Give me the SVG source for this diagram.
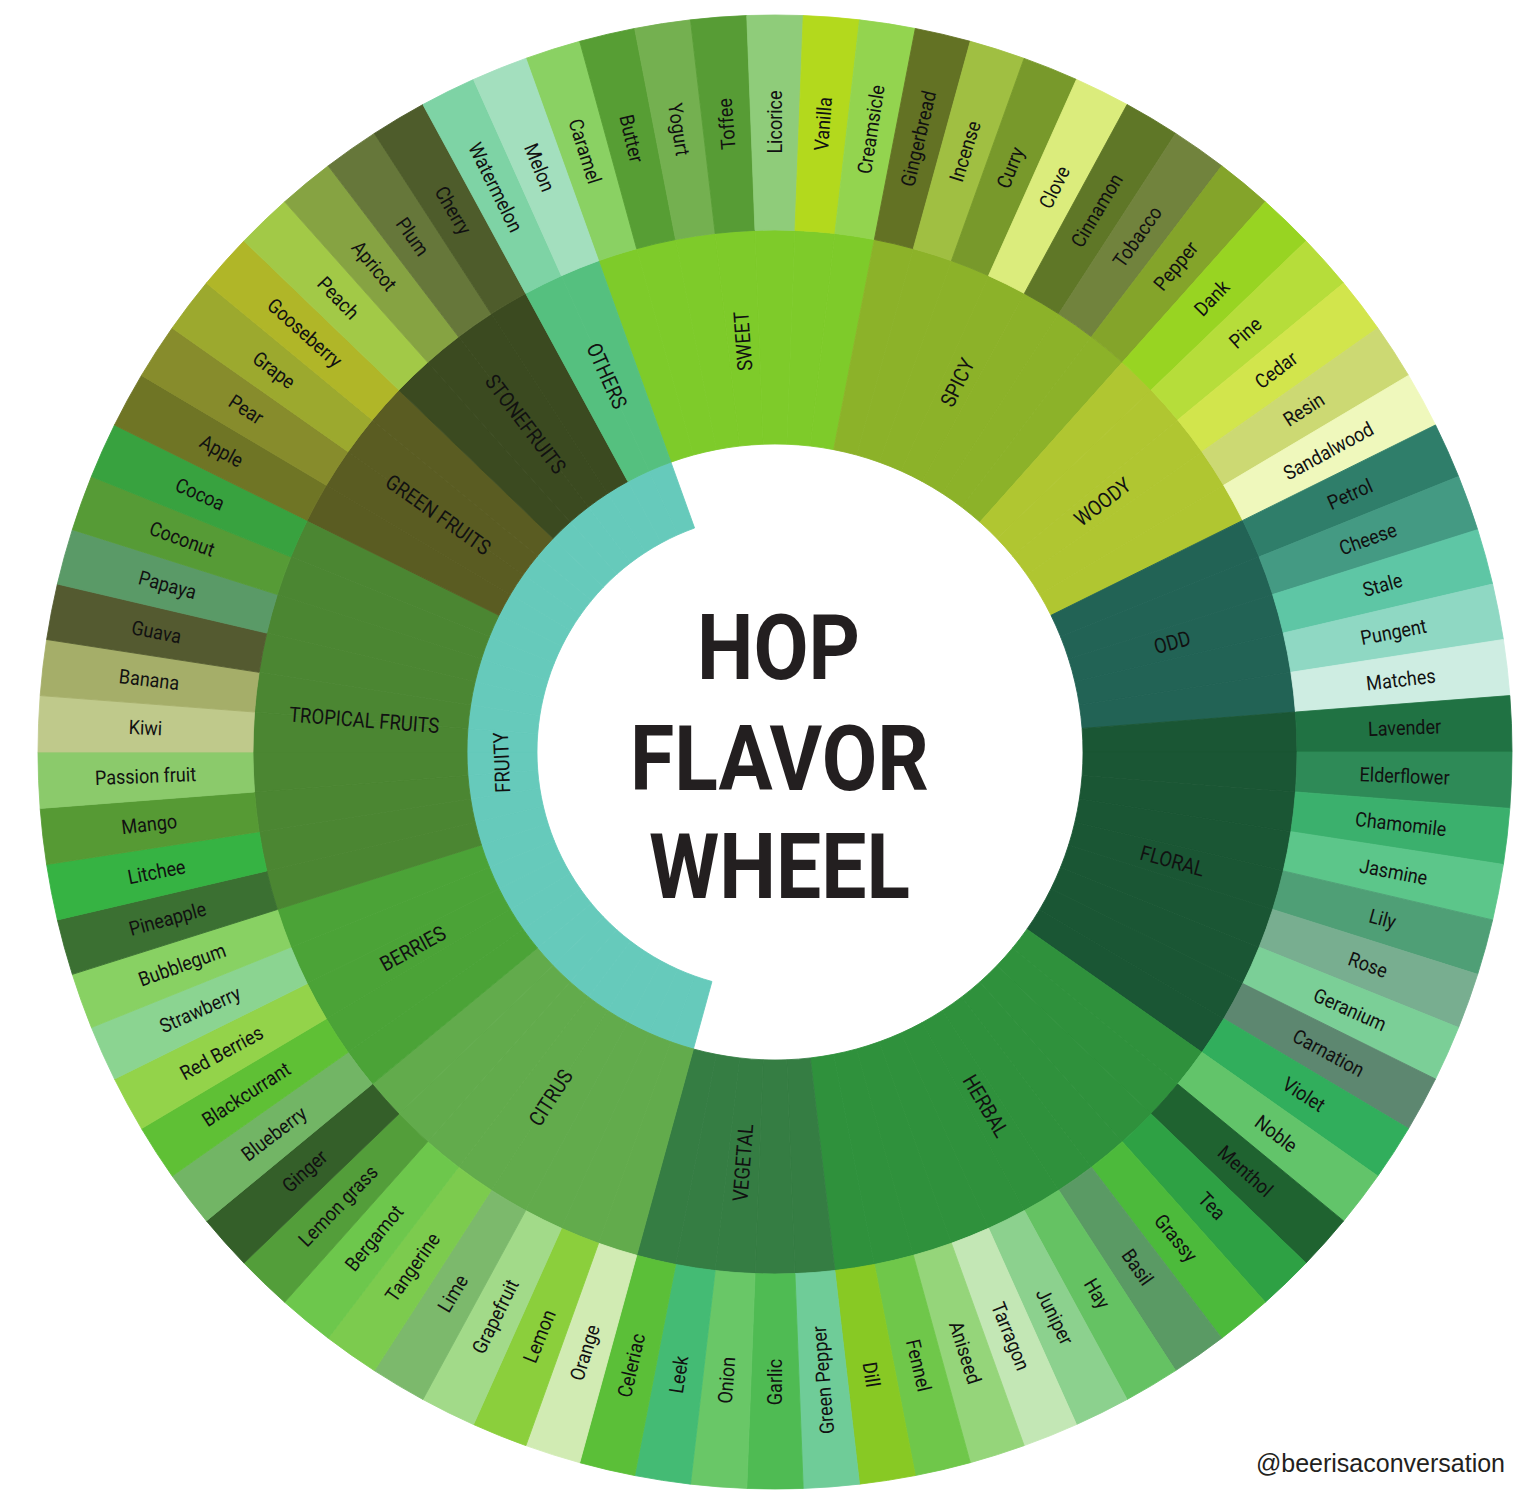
<svg xmlns="http://www.w3.org/2000/svg" xmlns:xlink="http://www.w3.org/1999/xlink" width="1534" height="1507" viewBox="0 0 1534 1507">
<style>
.o{font-family:Roboto,"Liberation Sans",sans-serif;font-size:20px;fill:#111;text-anchor:middle;dominant-baseline:central}
.m{font-family:Roboto,"Liberation Sans",sans-serif;font-size:21px;fill:#111;text-anchor:middle;dominant-baseline:central;stroke:none}
.t{font-family:Roboto,"Liberation Sans",sans-serif;font-weight:700;font-size:91px;fill:#231f20;text-anchor:middle}
use{stroke-width:.8}
</style>
<defs>
<path id="w3" d="M0,-737A737,737 0 0 1 56.417,-734.838L39.959,-520.468A522,522 0 0 0 0,-522Z"/>
<path id="w2" d="M0,-522A522,522 0 0 1 39.959,-520.468L23.577,-307.096A308,308 0 0 0 0,-308Z"/>
<path id="w1" d="M0,-308A308,308 0 0 1 23.577,-307.096L18.219,-237.302A238,238 0 0 0 0,-238Z"/>
</defs>
<rect width="1534" height="1507" fill="#fff"/>
<g transform="translate(775 752)">
<!-- level 1 -->
<g id="fruity" fill="#66cabb" stroke="#66cabb">
<use href="#w1" transform="rotate(195.366)"/><use href="#w1" transform="rotate(199.756)"/><use href="#w1" transform="rotate(204.146)"/><use href="#w1" transform="rotate(208.537)"/><use href="#w1" transform="rotate(212.927)"/><use href="#w1" transform="rotate(217.317)"/><use href="#w1" transform="rotate(221.707)"/><use href="#w1" transform="rotate(226.098)"/><use href="#w1" transform="rotate(230.488)"/><use href="#w1" transform="rotate(234.878)"/><use href="#w1" transform="rotate(239.268)"/><use href="#w1" transform="rotate(243.659)"/><use href="#w1" transform="rotate(248.049)"/><use href="#w1" transform="rotate(252.439)"/><use href="#w1" transform="rotate(256.829)"/><use href="#w1" transform="rotate(261.220)"/><use href="#w1" transform="rotate(265.610)"/><use href="#w1" transform="rotate(270)"/><use href="#w1" transform="rotate(274.390)"/><use href="#w1" transform="rotate(278.780)"/><use href="#w1" transform="rotate(283.171)"/><use href="#w1" transform="rotate(287.561)"/><use href="#w1" transform="rotate(291.951)"/><use href="#w1" transform="rotate(296.341)"/><use href="#w1" transform="rotate(300.732)"/><use href="#w1" transform="rotate(305.122)"/><use href="#w1" transform="rotate(309.512)"/><use href="#w1" transform="rotate(313.902)"/><use href="#w1" transform="rotate(318.293)"/><use href="#w1" transform="rotate(322.683)"/><use href="#w1" transform="rotate(327.073)"/><use href="#w1" transform="rotate(331.463)"/><use href="#w1" transform="rotate(335.854)"/>
<text class="m" transform="rotate(267.805) translate(0 -273) scale(.88 1)">FRUITY</text>
</g>
<!-- level 2 -->
<g id="sweet" fill="#7ecb2a" stroke="#7ecb2a">
<use href="#w2" transform="rotate(-19.756)"/><use href="#w2" transform="rotate(-15.366)"/><use href="#w2" transform="rotate(-10.976)"/><use href="#w2" transform="rotate(-6.585)"/><use href="#w2" transform="rotate(-2.195)"/><use href="#w2" transform="rotate(2.195)"/><use href="#w2" transform="rotate(6.585)"/>
<text class="m" transform="rotate(-4.39) translate(0 -412) rotate(-90) scale(.88 1)">SWEET</text>
</g>
<g id="spicy" fill="#8cb229" stroke="#8cb229">
<use href="#w2" transform="rotate(10.976)"/><use href="#w2" transform="rotate(15.366)"/><use href="#w2" transform="rotate(19.756)"/><use href="#w2" transform="rotate(24.146)"/><use href="#w2" transform="rotate(28.537)"/><use href="#w2" transform="rotate(32.927)"/><use href="#w2" transform="rotate(37.317)"/>
<text class="m" transform="rotate(26.341) translate(0 -412) rotate(-90) scale(.88 1)">SPICY</text>
</g>
<g id="woody" fill="#b0c631" stroke="#b0c631">
<use href="#w2" transform="rotate(41.707)"/><use href="#w2" transform="rotate(46.098)"/><use href="#w2" transform="rotate(50.488)"/><use href="#w2" transform="rotate(54.878)"/><use href="#w2" transform="rotate(59.268)"/>
<text class="m" transform="rotate(52.683) translate(0 -412) rotate(-90) scale(.88 1)">WOODY</text>
</g>
<g id="odd" fill="#226355" stroke="#226355">
<use href="#w2" transform="rotate(63.659)"/><use href="#w2" transform="rotate(68.049)"/><use href="#w2" transform="rotate(72.439)"/><use href="#w2" transform="rotate(76.829)"/><use href="#w2" transform="rotate(81.220)"/>
<text class="m" transform="rotate(74.634) translate(0 -412) rotate(-90) scale(.88 1)">ODD</text>
</g>
<g id="floral" fill="#1a5634" stroke="#1a5634">
<use href="#w2" transform="rotate(85.610)"/><use href="#w2" transform="rotate(90)"/><use href="#w2" transform="rotate(94.390)"/><use href="#w2" transform="rotate(98.780)"/><use href="#w2" transform="rotate(103.171)"/><use href="#w2" transform="rotate(107.561)"/><use href="#w2" transform="rotate(111.951)"/><use href="#w2" transform="rotate(116.341)"/><use href="#w2" transform="rotate(120.732)"/>
<text class="m" transform="rotate(105.366) translate(0 -412) rotate(-90) scale(.88 1)">FLORAL</text>
</g>
<g id="herbal" fill="#2f913c" stroke="#2f913c">
<use href="#w2" transform="rotate(125.122)"/><use href="#w2" transform="rotate(129.512)"/><use href="#w2" transform="rotate(133.902)"/><use href="#w2" transform="rotate(138.293)"/><use href="#w2" transform="rotate(142.683)"/><use href="#w2" transform="rotate(147.073)"/><use href="#w2" transform="rotate(151.463)"/><use href="#w2" transform="rotate(155.854)"/><use href="#w2" transform="rotate(160.244)"/><use href="#w2" transform="rotate(164.634)"/><use href="#w2" transform="rotate(169.024)"/>
<text class="m" transform="rotate(149.268) translate(0 -412) rotate(-90) scale(.88 1)">HERBAL</text>
</g>
<g id="vegetal" fill="#357d43" stroke="#357d43">
<use href="#w2" transform="rotate(173.415)"/><use href="#w2" transform="rotate(177.805)"/><use href="#w2" transform="rotate(182.195)"/><use href="#w2" transform="rotate(186.585)"/><use href="#w2" transform="rotate(190.976)"/>
<text class="m" transform="rotate(184.39) translate(0 -412) rotate(90) scale(.88 1)">VEGETAL</text>
</g>
<g id="citrus" fill="#62ab4c" stroke="#62ab4c">
<use href="#w2" transform="rotate(195.366)"/><use href="#w2" transform="rotate(199.756)"/><use href="#w2" transform="rotate(204.146)"/><use href="#w2" transform="rotate(208.537)"/><use href="#w2" transform="rotate(212.927)"/><use href="#w2" transform="rotate(217.317)"/><use href="#w2" transform="rotate(221.707)"/><use href="#w2" transform="rotate(226.098)"/>
<text class="m" transform="rotate(212.927) translate(0 -412) rotate(90) scale(.88 1)">CITRUS</text>
</g>
<g id="berries" fill="#4ba337" stroke="#4ba337">
<use href="#w2" transform="rotate(230.488)"/><use href="#w2" transform="rotate(234.878)"/><use href="#w2" transform="rotate(239.268)"/><use href="#w2" transform="rotate(243.659)"/><use href="#w2" transform="rotate(248.049)"/>
<text class="m" transform="rotate(241.463) translate(0 -412) rotate(90) scale(.88 1)">BERRIES</text>
</g>
<g id="tropical-fruits" fill="#4b8632" stroke="#4b8632">
<use href="#w2" transform="rotate(252.439)"/><use href="#w2" transform="rotate(256.829)"/><use href="#w2" transform="rotate(261.220)"/><use href="#w2" transform="rotate(265.610)"/><use href="#w2" transform="rotate(270)"/><use href="#w2" transform="rotate(274.390)"/><use href="#w2" transform="rotate(278.780)"/><use href="#w2" transform="rotate(283.171)"/><use href="#w2" transform="rotate(287.561)"/><use href="#w2" transform="rotate(291.951)"/>
<text class="m" transform="rotate(274.39) translate(0 -412) rotate(90) scale(.88 1)">TROPICAL FRUITS</text>
</g>
<g id="green-fruits" fill="#5a5c22" stroke="#5a5c22">
<use href="#w2" transform="rotate(296.341)"/><use href="#w2" transform="rotate(300.732)"/><use href="#w2" transform="rotate(305.122)"/><use href="#w2" transform="rotate(309.512)"/>
<text class="m" transform="rotate(305.122) translate(0 -412) rotate(90) scale(.88 1)">GREEN FRUITS</text>
</g>
<g id="stonefruits" fill="#3b4a20" stroke="#3b4a20">
<use href="#w2" transform="rotate(313.902)"/><use href="#w2" transform="rotate(318.293)"/><use href="#w2" transform="rotate(322.683)"/><use href="#w2" transform="rotate(327.073)"/>
<text class="m" transform="rotate(322.683) translate(0 -412) rotate(90) scale(.88 1)">STONEFRUITS</text>
</g>
<g id="others" fill="#55c07f" stroke="#55c07f">
<use href="#w2" transform="rotate(331.463)"/><use href="#w2" transform="rotate(335.854)"/>
<text class="m" transform="rotate(335.854) translate(0 -412) rotate(90) scale(.88 1)">OTHERS</text>
</g>
<!-- level 3 -->
<g id="caramel"><use href="#w3" transform="rotate(-19.756)" fill="#8ad163" stroke="#8ad163"/><text class="o" transform="rotate(-17.561) translate(0 -630) rotate(90) scale(.9 1)">Caramel</text></g>
<g id="butter"><use href="#w3" transform="rotate(-15.366)" fill="#579e34" stroke="#579e34"/><text class="o" transform="rotate(-13.171) translate(0 -630) rotate(90) scale(.9 1)">Butter</text></g>
<g id="yogurt"><use href="#w3" transform="rotate(-10.976)" fill="#74b050" stroke="#74b050"/><text class="o" transform="rotate(-8.780) translate(0 -630) rotate(90) scale(.9 1)">Yogurt</text></g>
<g id="toffee"><use href="#w3" transform="rotate(-6.585)" fill="#579c35" stroke="#579c35"/><text class="o" transform="rotate(-4.390) translate(0 -630) rotate(-90) scale(.9 1)">Toffee</text></g>
<g id="licorice"><use href="#w3" transform="rotate(-2.195)" fill="#8fcc7a" stroke="#8fcc7a"/><text class="o" transform="rotate(0) translate(0 -630) rotate(-90) scale(.9 1)">Licorice</text></g>
<g id="vanilla"><use href="#w3" transform="rotate(2.195)" fill="#b3d91d" stroke="#b3d91d"/><text class="o" transform="rotate(4.390) translate(0 -630) rotate(-90) scale(.9 1)">Vanilla</text></g>
<g id="creamsicle"><use href="#w3" transform="rotate(6.585)" fill="#93d44f" stroke="#93d44f"/><text class="o" transform="rotate(8.780) translate(0 -630) rotate(-90) scale(.9 1)">Creamsicle</text></g>
<g id="gingerbread"><use href="#w3" transform="rotate(10.976)" fill="#637224" stroke="#637224"/><text class="o" transform="rotate(13.171) translate(0 -630) rotate(-90) scale(.9 1)">Gingerbread</text></g>
<g id="incense"><use href="#w3" transform="rotate(15.366)" fill="#a0bf42" stroke="#a0bf42"/><text class="o" transform="rotate(17.561) translate(0 -630) rotate(-90) scale(.9 1)">Incense</text></g>
<g id="curry"><use href="#w3" transform="rotate(19.756)" fill="#78992b" stroke="#78992b"/><text class="o" transform="rotate(21.951) translate(0 -630) rotate(-90) scale(.9 1)">Curry</text></g>
<g id="clove"><use href="#w3" transform="rotate(24.146)" fill="#dbec7c" stroke="#dbec7c"/><text class="o" transform="rotate(26.341) translate(0 -630) rotate(-90) scale(.9 1)">Clove</text></g>
<g id="cinnamon"><use href="#w3" transform="rotate(28.537)" fill="#5f7727" stroke="#5f7727"/><text class="o" transform="rotate(30.732) translate(0 -630) rotate(-90) scale(.9 1)">Cinnamon</text></g>
<g id="tobacco"><use href="#w3" transform="rotate(32.927)" fill="#71833d" stroke="#71833d"/><text class="o" transform="rotate(35.122) translate(0 -630) rotate(-90) scale(.9 1)">Tobacco</text></g>
<g id="pepper"><use href="#w3" transform="rotate(37.317)" fill="#84a42a" stroke="#84a42a"/><text class="o" transform="rotate(39.512) translate(0 -630) rotate(-90) scale(.9 1)">Pepper</text></g>
<g id="dank"><use href="#w3" transform="rotate(41.707)" fill="#98d422" stroke="#98d422"/><text class="o" transform="rotate(43.902) translate(0 -630) rotate(-90) scale(.9 1)">Dank</text></g>
<g id="pine"><use href="#w3" transform="rotate(46.098)" fill="#b6dd3a" stroke="#b6dd3a"/><text class="o" transform="rotate(48.293) translate(0 -630) rotate(-90) scale(.9 1)">Pine</text></g>
<g id="cedar"><use href="#w3" transform="rotate(50.488)" fill="#d2e54c" stroke="#d2e54c"/><text class="o" transform="rotate(52.683) translate(0 -630) rotate(-90) scale(.9 1)">Cedar</text></g>
<g id="resin"><use href="#w3" transform="rotate(54.878)" fill="#ccd973" stroke="#ccd973"/><text class="o" transform="rotate(57.073) translate(0 -630) rotate(-90) scale(.9 1)">Resin</text></g>
<g id="sandalwood"><use href="#w3" transform="rotate(59.268)" fill="#eff8bc" stroke="#eff8bc"/><text class="o" transform="rotate(61.463) translate(0 -630) rotate(-90) scale(.9 1)">Sandalwood</text></g>
<g id="petrol"><use href="#w3" transform="rotate(63.659)" fill="#2f7e6a" stroke="#2f7e6a"/><text class="o" transform="rotate(65.854) translate(0 -630) rotate(-90) scale(.9 1)">Petrol</text></g>
<g id="cheese"><use href="#w3" transform="rotate(68.049)" fill="#449a83" stroke="#449a83"/><text class="o" transform="rotate(70.244) translate(0 -630) rotate(-90) scale(.9 1)">Cheese</text></g>
<g id="stale"><use href="#w3" transform="rotate(72.439)" fill="#5ec6a5" stroke="#5ec6a5"/><text class="o" transform="rotate(74.634) translate(0 -630) rotate(-90) scale(.9 1)">Stale</text></g>
<g id="pungent"><use href="#w3" transform="rotate(76.829)" fill="#8fd8c3" stroke="#8fd8c3"/><text class="o" transform="rotate(79.024) translate(0 -630) rotate(-90) scale(.9 1)">Pungent</text></g>
<g id="matches"><use href="#w3" transform="rotate(81.220)" fill="#ceede2" stroke="#ceede2"/><text class="o" transform="rotate(83.415) translate(0 -630) rotate(-90) scale(.9 1)">Matches</text></g>
<g id="lavender"><use href="#w3" transform="rotate(85.610)" fill="#207243" stroke="#207243"/><text class="o" transform="rotate(87.805) translate(0 -630) rotate(-90) scale(.9 1)">Lavender</text></g>
<g id="elderflower"><use href="#w3" transform="rotate(90)" fill="#2e8a57" stroke="#2e8a57"/><text class="o" transform="rotate(92.195) translate(0 -630) rotate(-90) scale(.9 1)">Elderflower</text></g>
<g id="chamomile"><use href="#w3" transform="rotate(94.390)" fill="#3bb06d" stroke="#3bb06d"/><text class="o" transform="rotate(96.585) translate(0 -630) rotate(-90) scale(.9 1)">Chamomile</text></g>
<g id="jasmine"><use href="#w3" transform="rotate(98.780)" fill="#5cc68a" stroke="#5cc68a"/><text class="o" transform="rotate(100.976) translate(0 -630) rotate(-90) scale(.9 1)">Jasmine</text></g>
<g id="lily"><use href="#w3" transform="rotate(103.171)" fill="#4f9f76" stroke="#4f9f76"/><text class="o" transform="rotate(105.366) translate(0 -630) rotate(-90) scale(.9 1)">Lily</text></g>
<g id="rose"><use href="#w3" transform="rotate(107.561)" fill="#78ae90" stroke="#78ae90"/><text class="o" transform="rotate(109.756) translate(0 -630) rotate(-90) scale(.9 1)">Rose</text></g>
<g id="geranium"><use href="#w3" transform="rotate(111.951)" fill="#7bcf97" stroke="#7bcf97"/><text class="o" transform="rotate(114.146) translate(0 -630) rotate(-90) scale(.9 1)">Geranium</text></g>
<g id="carnation"><use href="#w3" transform="rotate(116.341)" fill="#5d8770" stroke="#5d8770"/><text class="o" transform="rotate(118.537) translate(0 -630) rotate(-90) scale(.9 1)">Carnation</text></g>
<g id="violet"><use href="#w3" transform="rotate(120.732)" fill="#31ae5c" stroke="#31ae5c"/><text class="o" transform="rotate(122.927) translate(0 -630) rotate(-90) scale(.9 1)">Violet</text></g>
<g id="noble"><use href="#w3" transform="rotate(125.122)" fill="#62c46a" stroke="#62c46a"/><text class="o" transform="rotate(127.317) translate(0 -630) rotate(-90) scale(.9 1)">Noble</text></g>
<g id="menthol"><use href="#w3" transform="rotate(129.512)" fill="#1f6330" stroke="#1f6330"/><text class="o" transform="rotate(131.707) translate(0 -630) rotate(-90) scale(.9 1)">Menthol</text></g>
<g id="tea"><use href="#w3" transform="rotate(133.902)" fill="#2ea144" stroke="#2ea144"/><text class="o" transform="rotate(136.098) translate(0 -630) rotate(-90) scale(.9 1)">Tea</text></g>
<g id="grassy"><use href="#w3" transform="rotate(138.293)" fill="#4cba3b" stroke="#4cba3b"/><text class="o" transform="rotate(140.488) translate(0 -630) rotate(-90) scale(.9 1)">Grassy</text></g>
<g id="basil"><use href="#w3" transform="rotate(142.683)" fill="#5a9a64" stroke="#5a9a64"/><text class="o" transform="rotate(144.878) translate(0 -630) rotate(-90) scale(.9 1)">Basil</text></g>
<g id="hay"><use href="#w3" transform="rotate(147.073)" fill="#65c263" stroke="#65c263"/><text class="o" transform="rotate(149.268) translate(0 -630) rotate(-90) scale(.9 1)">Hay</text></g>
<g id="juniper"><use href="#w3" transform="rotate(151.463)" fill="#8cd18e" stroke="#8cd18e"/><text class="o" transform="rotate(153.659) translate(0 -630) rotate(-90) scale(.9 1)">Juniper</text></g>
<g id="tarragon"><use href="#w3" transform="rotate(155.854)" fill="#c3e7b5" stroke="#c3e7b5"/><text class="o" transform="rotate(158.049) translate(0 -630) rotate(-90) scale(.9 1)">Tarragon</text></g>
<g id="aniseed"><use href="#w3" transform="rotate(160.244)" fill="#95d57a" stroke="#95d57a"/><text class="o" transform="rotate(162.439) translate(0 -630) rotate(-90) scale(.9 1)">Aniseed</text></g>
<g id="fennel"><use href="#w3" transform="rotate(164.634)" fill="#6fc74a" stroke="#6fc74a"/><text class="o" transform="rotate(166.829) translate(0 -630) rotate(-90) scale(.9 1)">Fennel</text></g>
<g id="dill"><use href="#w3" transform="rotate(169.024)" fill="#88c924" stroke="#88c924"/><text class="o" transform="rotate(171.220) translate(0 -630) rotate(-90) scale(.9 1)">Dill</text></g>
<g id="green-pepper"><use href="#w3" transform="rotate(173.415)" fill="#6fcc98" stroke="#6fcc98"/><text class="o" transform="rotate(175.610) translate(0 -630) rotate(90) scale(.9 1)">Green Pepper</text></g>
<g id="garlic"><use href="#w3" transform="rotate(177.805)" fill="#4fbb53" stroke="#4fbb53"/><text class="o" transform="rotate(180) translate(0 -630) rotate(90) scale(.9 1)">Garlic</text></g>
<g id="onion"><use href="#w3" transform="rotate(182.195)" fill="#69c767" stroke="#69c767"/><text class="o" transform="rotate(184.390) translate(0 -630) rotate(90) scale(.9 1)">Onion</text></g>
<g id="leek"><use href="#w3" transform="rotate(186.585)" fill="#44bb74" stroke="#44bb74"/><text class="o" transform="rotate(188.780) translate(0 -630) rotate(90) scale(.9 1)">Leek</text></g>
<g id="celeriac"><use href="#w3" transform="rotate(190.976)" fill="#5bbf38" stroke="#5bbf38"/><text class="o" transform="rotate(193.171) translate(0 -630) rotate(90) scale(.9 1)">Celeriac</text></g>
<g id="orange"><use href="#w3" transform="rotate(195.366)" fill="#d1ebb3" stroke="#d1ebb3"/><text class="o" transform="rotate(197.561) translate(0 -630) rotate(90) scale(.9 1)">Orange</text></g>
<g id="lemon"><use href="#w3" transform="rotate(199.756)" fill="#8bcf3c" stroke="#8bcf3c"/><text class="o" transform="rotate(201.951) translate(0 -630) rotate(90) scale(.9 1)">Lemon</text></g>
<g id="grapefruit"><use href="#w3" transform="rotate(204.146)" fill="#a2da89" stroke="#a2da89"/><text class="o" transform="rotate(206.341) translate(0 -630) rotate(90) scale(.9 1)">Grapefruit</text></g>
<g id="lime"><use href="#w3" transform="rotate(208.537)" fill="#7cb96c" stroke="#7cb96c"/><text class="o" transform="rotate(210.732) translate(0 -630) rotate(90) scale(.9 1)">Lime</text></g>
<g id="tangerine"><use href="#w3" transform="rotate(212.927)" fill="#7ccb4e" stroke="#7ccb4e"/><text class="o" transform="rotate(215.122) translate(0 -630) rotate(90) scale(.9 1)">Tangerine</text></g>
<g id="bergamot"><use href="#w3" transform="rotate(217.317)" fill="#6dc74c" stroke="#6dc74c"/><text class="o" transform="rotate(219.512) translate(0 -630) rotate(90) scale(.9 1)">Bergamot</text></g>
<g id="lemon-grass"><use href="#w3" transform="rotate(221.707)" fill="#539e3a" stroke="#539e3a"/><text class="o" transform="rotate(223.902) translate(0 -630) rotate(90) scale(.9 1)">Lemon grass</text></g>
<g id="ginger"><use href="#w3" transform="rotate(226.098)" fill="#345f29" stroke="#345f29"/><text class="o" transform="rotate(228.293) translate(0 -630) rotate(90) scale(.9 1)">Ginger</text></g>
<g id="blueberry"><use href="#w3" transform="rotate(230.488)" fill="#72b565" stroke="#72b565"/><text class="o" transform="rotate(232.683) translate(0 -630) rotate(90) scale(.9 1)">Blueberry</text></g>
<g id="blackcurrant"><use href="#w3" transform="rotate(234.878)" fill="#5fc035" stroke="#5fc035"/><text class="o" transform="rotate(237.073) translate(0 -630) rotate(90) scale(.9 1)">Blackcurrant</text></g>
<g id="red-berries"><use href="#w3" transform="rotate(239.268)" fill="#93d34a" stroke="#93d34a"/><text class="o" transform="rotate(241.463) translate(0 -630) rotate(90) scale(.9 1)">Red Berries</text></g>
<g id="strawberry"><use href="#w3" transform="rotate(243.659)" fill="#8bd491" stroke="#8bd491"/><text class="o" transform="rotate(245.854) translate(0 -630) rotate(90) scale(.9 1)">Strawberry</text></g>
<g id="bubblegum"><use href="#w3" transform="rotate(248.049)" fill="#88d163" stroke="#88d163"/><text class="o" transform="rotate(250.244) translate(0 -630) rotate(90) scale(.9 1)">Bubblegum</text></g>
<g id="pineapple"><use href="#w3" transform="rotate(252.439)" fill="#3b7032" stroke="#3b7032"/><text class="o" transform="rotate(254.634) translate(0 -630) rotate(90) scale(.9 1)">Pineapple</text></g>
<g id="litchee"><use href="#w3" transform="rotate(256.829)" fill="#36b343" stroke="#36b343"/><text class="o" transform="rotate(259.024) translate(0 -630) rotate(90) scale(.9 1)">Litchee</text></g>
<g id="mango"><use href="#w3" transform="rotate(261.220)" fill="#569a34" stroke="#569a34"/><text class="o" transform="rotate(263.415) translate(0 -630) rotate(90) scale(.9 1)">Mango</text></g>
<g id="passion-fruit"><use href="#w3" transform="rotate(265.610)" fill="#8bca6b" stroke="#8bca6b"/><text class="o" transform="rotate(267.805) translate(0 -630) rotate(90) scale(.9 1)">Passion fruit</text></g>
<g id="kiwi"><use href="#w3" transform="rotate(270)" fill="#bfc98b" stroke="#bfc98b"/><text class="o" transform="rotate(272.195) translate(0 -630) rotate(90) scale(.9 1)">Kiwi</text></g>
<g id="banana"><use href="#w3" transform="rotate(274.390)" fill="#a5ae69" stroke="#a5ae69"/><text class="o" transform="rotate(276.585) translate(0 -630) rotate(90) scale(.9 1)">Banana</text></g>
<g id="guava"><use href="#w3" transform="rotate(278.780)" fill="#545a30" stroke="#545a30"/><text class="o" transform="rotate(280.976) translate(0 -630) rotate(90) scale(.9 1)">Guava</text></g>
<g id="papaya"><use href="#w3" transform="rotate(283.171)" fill="#5a9a67" stroke="#5a9a67"/><text class="o" transform="rotate(285.366) translate(0 -630) rotate(90) scale(.9 1)">Papaya</text></g>
<g id="coconut"><use href="#w3" transform="rotate(287.561)" fill="#569b36" stroke="#569b36"/><text class="o" transform="rotate(289.756) translate(0 -630) rotate(90) scale(.9 1)">Coconut</text></g>
<g id="cocoa"><use href="#w3" transform="rotate(291.951)" fill="#38a23f" stroke="#38a23f"/><text class="o" transform="rotate(294.146) translate(0 -630) rotate(90) scale(.9 1)">Cocoa</text></g>
<g id="apple"><use href="#w3" transform="rotate(296.341)" fill="#6f7525" stroke="#6f7525"/><text class="o" transform="rotate(298.537) translate(0 -630) rotate(90) scale(.9 1)">Apple</text></g>
<g id="pear"><use href="#w3" transform="rotate(300.732)" fill="#878c2c" stroke="#878c2c"/><text class="o" transform="rotate(302.927) translate(0 -630) rotate(90) scale(.9 1)">Pear</text></g>
<g id="grape"><use href="#w3" transform="rotate(305.122)" fill="#9ca92e" stroke="#9ca92e"/><text class="o" transform="rotate(307.317) translate(0 -630) rotate(90) scale(.9 1)">Grape</text></g>
<g id="gooseberry"><use href="#w3" transform="rotate(309.512)" fill="#b0b628" stroke="#b0b628"/><text class="o" transform="rotate(311.707) translate(0 -630) rotate(90) scale(.9 1)">Gooseberry</text></g>
<g id="peach"><use href="#w3" transform="rotate(313.902)" fill="#a2c947" stroke="#a2c947"/><text class="o" transform="rotate(316.098) translate(0 -630) rotate(90) scale(.9 1)">Peach</text></g>
<g id="apricot"><use href="#w3" transform="rotate(318.293)" fill="#86a342" stroke="#86a342"/><text class="o" transform="rotate(320.488) translate(0 -630) rotate(90) scale(.9 1)">Apricot</text></g>
<g id="plum"><use href="#w3" transform="rotate(322.683)" fill="#66773a" stroke="#66773a"/><text class="o" transform="rotate(324.878) translate(0 -630) rotate(90) scale(.9 1)">Plum</text></g>
<g id="cherry"><use href="#w3" transform="rotate(327.073)" fill="#4e5c2b" stroke="#4e5c2b"/><text class="o" transform="rotate(329.268) translate(0 -630) rotate(90) scale(.9 1)">Cherry</text></g>
<g id="watermelon"><use href="#w3" transform="rotate(331.463)" fill="#7ed3a5" stroke="#7ed3a5"/><text class="o" transform="rotate(333.659) translate(0 -630) rotate(90) scale(.9 1)">Watermelon</text></g>
<g id="melon"><use href="#w3" transform="rotate(335.854)" fill="#a3dfbe" stroke="#a3dfbe"/><text class="o" transform="rotate(338.049) translate(0 -630) rotate(90) scale(.9 1)">Melon</text></g>
</g>
<g id="connectors"/>
<g id="title">
<text class="t" x="778.5" y="679" textLength="163" lengthAdjust="spacingAndGlyphs">HOP</text>
<text class="t" x="779.5" y="790" textLength="299" lengthAdjust="spacingAndGlyphs">FLAVOR</text>
<text class="t" x="779.5" y="898" textLength="261" lengthAdjust="spacingAndGlyphs">WHEEL</text>
</g>
<text id="credit" x="1505" y="1472" font-family="'Liberation Sans',Arial,sans-serif" font-size="25" text-anchor="end" fill="#231f20">@beerisaconversation</text>
</svg>
